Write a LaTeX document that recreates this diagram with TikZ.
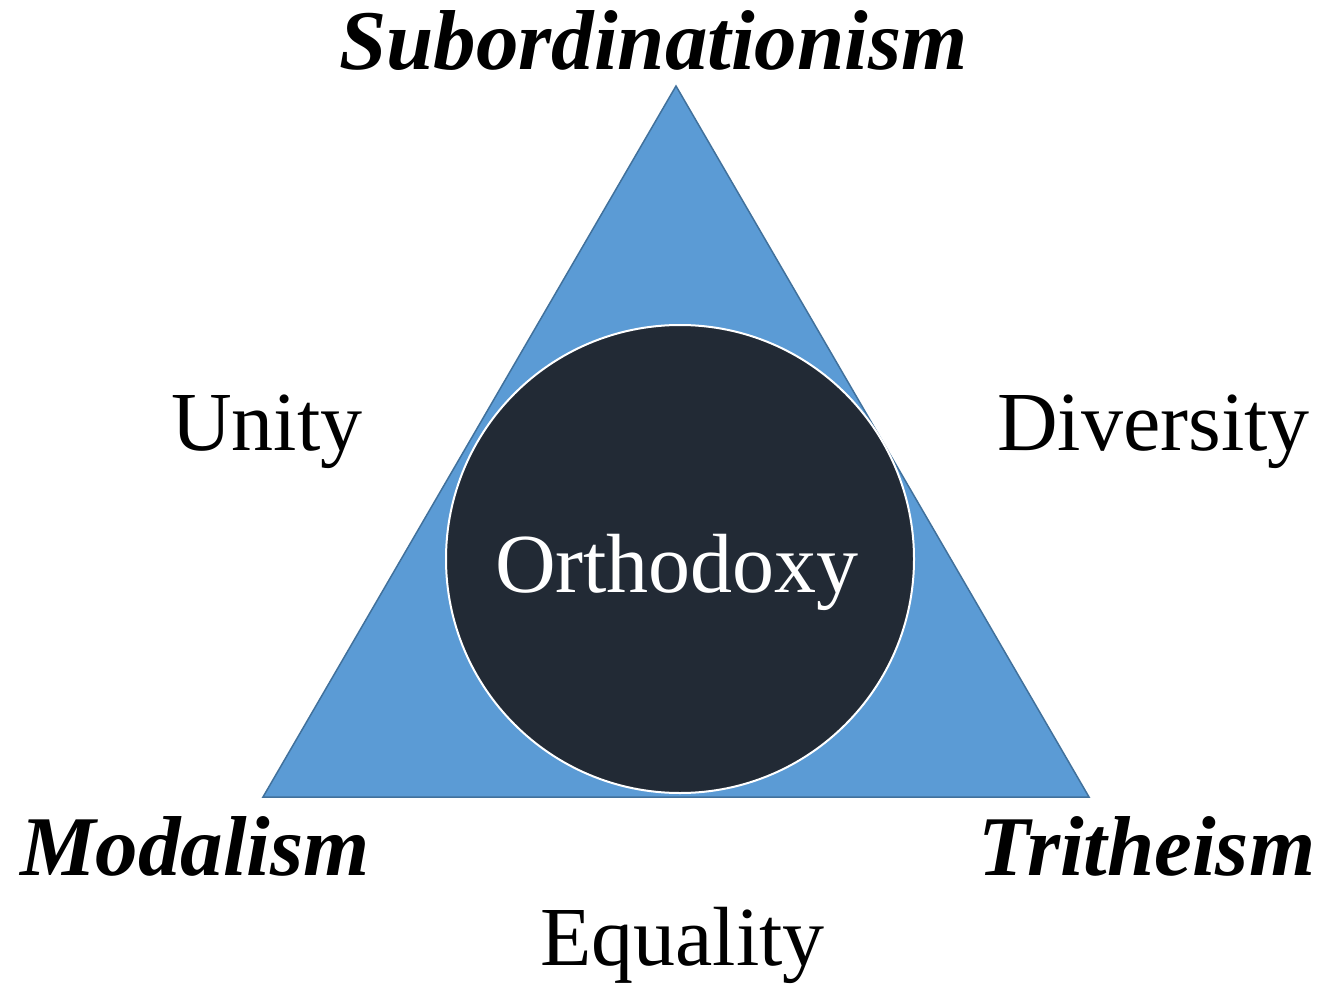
\documentclass[tikz,border=0pt]{standalone}
\usepackage{fontspec}
\setmainfont{Liberation Serif}
\definecolor{triblue}{HTML}{5B9BD5}
\definecolor{triedge}{HTML}{41719C}
\definecolor{darkfill}{HTML}{222A35}
\begin{document}
\begin{tikzpicture}[x=1pt,y=-1pt,
  lbl/.style={inner sep=0pt,anchor=base west,font=\fontsize{84}{100}\selectfont},
  heresy/.style={lbl,font=\fontsize{85}{100}\selectfont\bfseries\itshape}]
\useasboundingbox (0,0) rectangle (1320,984);
\coordinate (apex) at (676,86);
\coordinate (bl) at (263,797);
\coordinate (br) at (1089,797);
\draw[fill=triblue,draw=triedge,line width=1.5pt,line join=miter] (apex) -- (bl) -- (br) -- cycle;
\node[circle,minimum size=468pt,inner sep=0pt,fill=darkfill,draw=white,line width=2pt] (orth) at (680,559) {};
\node[lbl,text=white,anchor=base] (orthtext) at (677,592) {Orthodoxy};
\node[heresy] (sub) at (339,70) {Subordinationism};
\node[heresy] (mod) at (20,875) {Modalism};
\node[heresy] (tri) at (978,875) {Tritheism};
\node[lbl] (unity) at (171,450) {Unity};
\node[lbl] (div) at (997,450) {Diversity};
\node[lbl] (eq) at (540,965) {Equality};
\end{tikzpicture}
\end{document}
